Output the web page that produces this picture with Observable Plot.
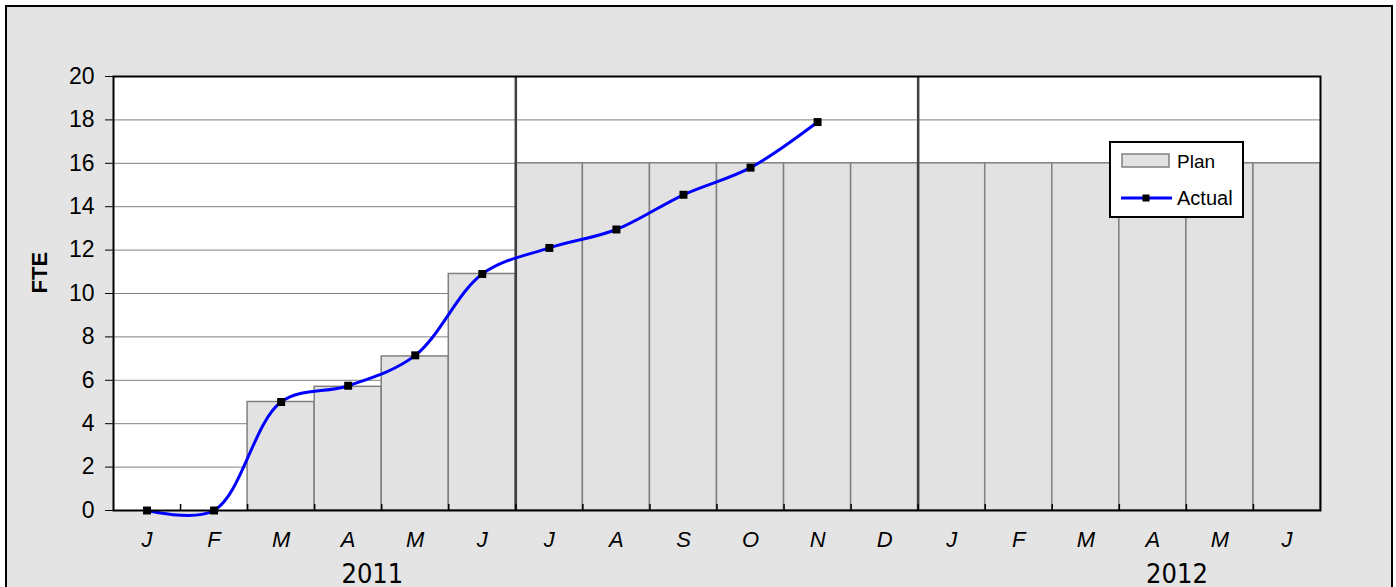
<!DOCTYPE html>
<html>
<head>
<meta charset="utf-8">
<script src="https://cdn.jsdelivr.net/npm/d3@7"></script>
<script src="https://cdn.jsdelivr.net/npm/@observablehq/plot@0.6"></script>
<style>
  html, body { margin: 0; padding: 0; background: #ffffff; }
  #wrap { position: relative; width: 1396px; height: 587px; overflow: hidden; }
  #bg { position: absolute; left: 5px; top: 5px; width: 1384px; height: 620px; border: 2px solid #000; background: #e4e4e4; }
  #chart { position: absolute; left: 0; top: 0; }
</style>
</head>
<body>
<div id="wrap"><div id="bg"></div><div id="chart"></div></div>
<script>
const months = ["J","F","M","A","M","J","J","A","S","O","N","D","J","F","M","A","M","J"];
const plan = [0, 0, 5, 5.7, 7.1, 10.9, 16, 16, 16, 16, 16, 16, 16, 16, 16, 16, 16, 16];
const actual = [0, 0, 5, 5.75, 7.15, 10.9, 12.1, 12.95, 14.55, 15.8, 17.9];
const years = ["2011", "2012"];
const yTicks = [0, 2, 4, 6, 8, 10, 12, 14, 16, 18, 20];
const seriesNames = ["Plan", "Actual"];

const bars = months.map((m, i) => ({i, m, plan: plan[i]}));
const act = actual.map((v, i) => ({i, v}));
const font = "'Liberation Sans', Arial, sans-serif";

const chart = Plot.plot({
  width: 1396,
  height: 587,
  marginLeft: 113,
  marginRight: 76,
  marginTop: 76,
  marginBottom: 77,
  style: {background: "transparent", fontFamily: font, color: "#000"},
  x: {type: "linear", domain: [0, 18], axis: null},
  y: {domain: [0, 20], axis: null},
  marks: [
    Plot.frame({fill: "white"}),
    Plot.gridY(yTicks, {stroke: "#808080", strokeOpacity: 1, strokeWidth: 1}),
    Plot.rectY(bars, {x1: "i", x2: d => d.i + 1, y: "plan", fill: "#e2e2e2", stroke: "#808080", strokeWidth: 1.5}),
    Plot.ruleX([6, 12], {stroke: "#404040", strokeWidth: 2.5}),
    Plot.line(act, {x: d => d.i + 0.5, y: "v", curve: "catmull-rom", stroke: "#0000ff", strokeWidth: 3}),
    Plot.dot(act, {x: d => d.i + 0.5, y: "v", symbol: "square", r: 4.5, fill: "#000", stroke: "none"}),
    Plot.frame({stroke: "#000", strokeWidth: 2}),
    Plot.axisY(yTicks, {tickSize: 8, tickPadding: 11, fontSize: 23, label: null, tickFormat: d => d, stroke: "#000"}),
    Plot.axisX(d3.range(1, 18), {anchor: "bottom", tickSize: -6, tickFormat: () => "", label: null, stroke: "#000", strokeWidth: 1.5}),
    Plot.text(bars, {x: d => d.i + 0.5, text: "m", frameAnchor: "bottom", dy: 36, fontSize: 22, fontStyle: "italic"}),
    Plot.text(years, {x: (d, i) => i * 12 + 3.86, text: d => d, frameAnchor: "bottom", dy: 72, fontSize: 27, fontFamily: "'Liberation Sans Narrow', 'DejaVu Sans Condensed', sans-serif"}),
    Plot.text(["FTE"], {frameAnchor: "left", dx: -74, rotate: -90, fontWeight: "bold", fontSize: 22, text: d => d})
  ]
});
document.getElementById("chart").appendChild(chart);

// Legend box
const svg = d3.select(chart);
const lg = svg.append("g").attr("font-family", font).attr("text-anchor", "start");
lg.append("rect").attr("x", 1110).attr("y", 142).attr("width", 133).attr("height", 75)
  .attr("fill", "white").attr("stroke", "#000").attr("stroke-width", 2);
lg.append("rect").attr("x", 1122).attr("y", 154).attr("width", 47).attr("height", 13)
  .attr("fill", "#e2e2e2").attr("stroke", "#808080").attr("stroke-width", 1.5);
lg.append("line").attr("x1", 1121).attr("x2", 1172).attr("y1", 198).attr("y2", 198)
  .attr("stroke", "#0000ff").attr("stroke-width", 3);
lg.append("rect").attr("x", 1142.5).attr("y", 194.5).attr("width", 7).attr("height", 7).attr("fill", "#000");
lg.append("text").attr("x", 1177).attr("y", 161).attr("dy", "0.35em").attr("font-size", 19).attr("text-anchor", "start").text(seriesNames[0]);
lg.append("text").attr("x", 1177).attr("y", 198).attr("dy", "0.35em").attr("font-size", 20).attr("text-anchor", "start").text(seriesNames[1]);
</script>
</body>
</html>
